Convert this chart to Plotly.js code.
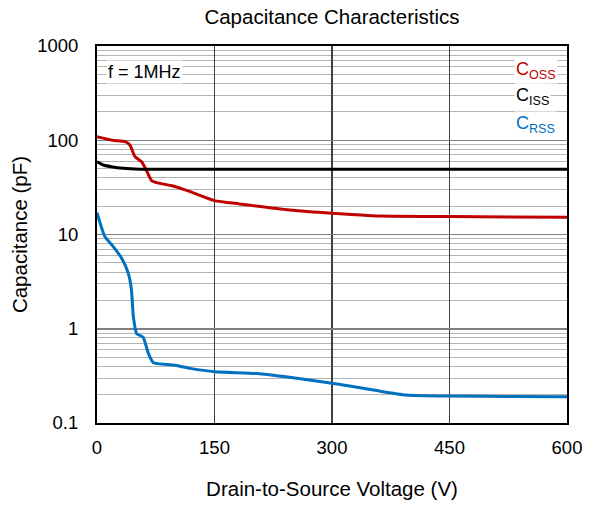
<!DOCTYPE html>
<html><head><meta charset="utf-8">
<script src="https://cdn.plot.ly/plotly-3.0.1.min.js"></script>
<style>body{margin:0;background:#fff}#chart{width:595px;height:505px}</style>
</head><body><div id="chart"></div>
<script>
const cossV = [0, 20, 36, 42, 48.5, 57, 63, 70, 76, 97, 119, 150, 182, 246, 300, 361, 450, 600];
const cossC = [109, 100, 96.6, 89, 67, 59, 48, 37, 35.5, 32.7, 28.5, 22.9, 21.1, 18.2, 16.8, 15.7, 15.5, 15.2];
const cissV = [0, 8, 20, 33, 55, 150, 300, 450, 600];
const cissC = [59, 54.6, 52, 50.4, 49.3, 49.3, 49.3, 49.3, 49.3];
const crssV = [0, 10, 21, 31.5, 40, 44, 46.4, 50.6, 59, 65.5, 72, 97.5, 119, 150.7, 204, 246, 300, 353, 395, 450, 600];
const crssC = [17.0, 9.5, 7.4, 5.6, 3.87, 2.58, 1.34, 0.89, 0.81, 0.548, 0.436, 0.412, 0.38, 0.35, 0.335, 0.305, 0.264, 0.224, 0.198, 0.193, 0.19];
const yTickVals = [0.1, 1, 10, 100, 1000];
const yTickText = ['0.1', '1', '10', '100', '1000'];
const yMinorVals = [0.2,0.3,0.4,0.5,0.6,0.7,0.8,0.9,2,3,4,5,6,7,8,9,20,30,40,50,60,70,80,90,200,300,400,500,600,700,800,900];
const xTickVals = [0, 150, 300, 450, 600];

const font = 'Liberation Sans, Arial, sans-serif';
const traces = [
  {x: cossV, y: cossC, mode: 'lines', line: {color: '#c00000', width: 3, shape: 'spline', smoothing: 0.5}},
  {x: cissV, y: cissC, mode: 'lines', line: {color: '#000000', width: 3, shape: 'spline', smoothing: 0.5}},
  {x: crssV, y: crssC, mode: 'lines', line: {color: '#0070c0', width: 3, shape: 'spline', smoothing: 0.5}}
];
const layout = {
  width: 595, height: 505,
  margin: {l: 97, r: 28, t: 46, b: 82},
  paper_bgcolor: '#fff', plot_bgcolor: '#fff',
  showlegend: false,
  font: {family: font, size: 18, color: '#000'},
  title: {text: 'Capacitance Characteristics', x: 0.5, xref: 'paper', y: 0.966, yref: 'container', yanchor: 'middle', font: {family: font, size: 20.5, color: '#000'}},
  xaxis: {
    range: [0, 600], tickvals: xTickVals, ticktext: xTickVals.map(String),
    showgrid: true, gridcolor: '#404040', gridwidth: 1.3,
    showline: true, linecolor: '#000', linewidth: 2, mirror: true,
    zeroline: false, ticks: '', tickfont: {size: 18.5}, ticklabelstandoff: 7,
    title: {text: 'Drain-to-Source Voltage (V)', font: {size: 20.5}, standoff: 24}
  },
  yaxis: {
    type: 'log', range: [-1, 3], tickvals: yTickVals, ticktext: yTickText,
    showgrid: true, gridcolor: '#7f7f7f', gridwidth: 1.5,
    minor: {showgrid: true, gridcolor: '#b3b3b3', gridwidth: 1, tickvals: yMinorVals},
    showline: true, linecolor: '#000', linewidth: 2, mirror: true,
    zeroline: false, ticks: '', tickfont: {size: 18.5}, ticklabelstandoff: 13,
    title: {text: 'Capacitance (pF)', font: {size: 20.5}, standoff: 4}
  },
  annotations: [
    {text: 'f = 1MHz', xref: 'paper', yref: 'paper', x: 0.019, y: 0.931, xanchor: 'left', yanchor: 'middle', showarrow: false, bgcolor: '#fff', font: {size: 18}},
    {text: 'C<sub>OSS</sub>', xref: 'paper', yref: 'paper', x: 0.887, y: 0.936, xanchor: 'left', yanchor: 'middle', showarrow: false, bgcolor: '#fff', font: {size: 18, color: '#c00000'}},
    {text: 'C<sub>ISS</sub>', xref: 'paper', yref: 'paper', x: 0.887, y: 0.867, xanchor: 'left', yanchor: 'middle', showarrow: false, bgcolor: '#fff', font: {size: 18, color: '#000'}},
    {text: 'C<sub>RSS</sub>', xref: 'paper', yref: 'paper', x: 0.887, y: 0.793, xanchor: 'left', yanchor: 'middle', showarrow: false, bgcolor: '#fff', font: {size: 18, color: '#0070c0'}}
  ]
};
Plotly.newPlot('chart', traces, layout, {displayModeBar: false, staticPlot: true});
</script></body></html>
